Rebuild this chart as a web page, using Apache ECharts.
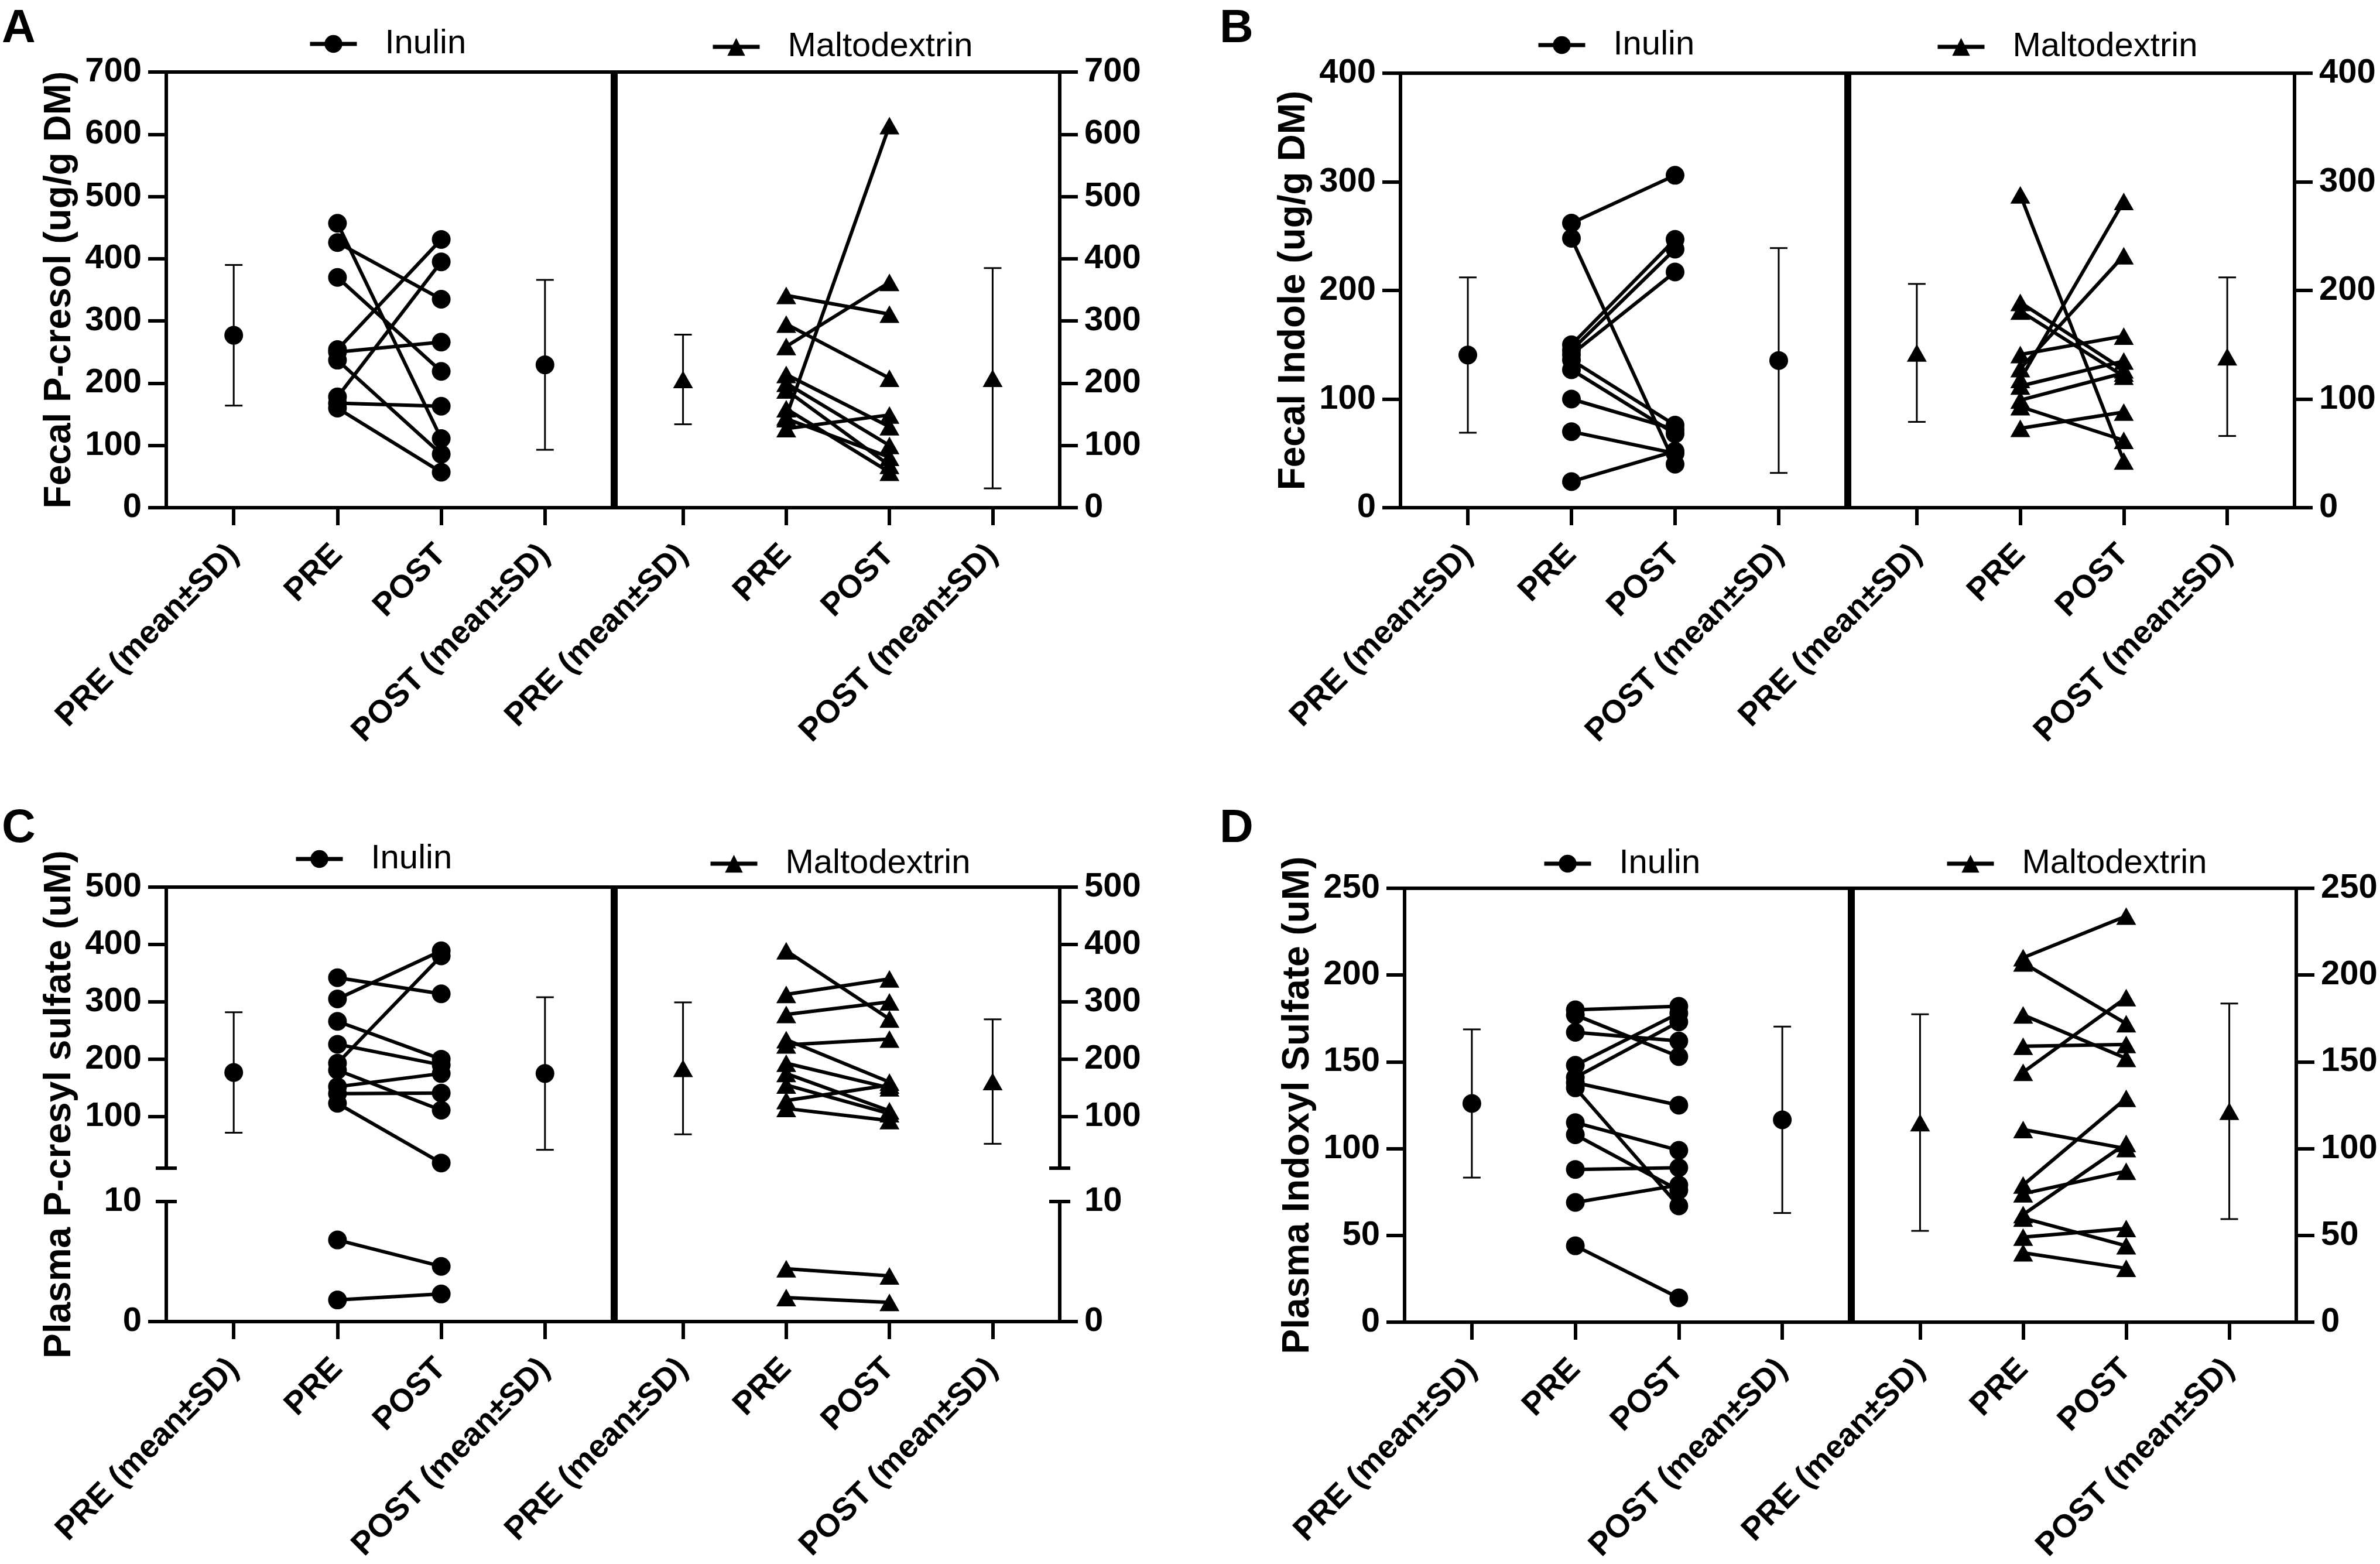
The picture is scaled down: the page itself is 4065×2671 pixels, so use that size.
<!DOCTYPE html>
<html>
<head>
<meta charset="utf-8">
<script src="https://cdn.jsdelivr.net/npm/echarts@6/dist/echarts.min.js"></script>
<style>html,body{margin:0;padding:0;background:#fff}#c{width:4065px;height:2671px}</style>
</head>
<body>
<div id="c"></div>
<script>
// ---------------- DATA ----------------
const CATEGORIES = ['PRE (mean±SD)', 'PRE', 'POST', 'POST (mean±SD)'];
const GROUPS = ['Inulin', 'Maltodextrin'];

// Panel A: Fecal P-cresol (ug/g DM)
const A_INU_PRE  = [457, 426, 370, 254, 250, 237, 178, 168, 160];
const A_INU_POST = [111, 335, 219, 431, 266, 86, 395, 163, 57];
const A_INU_MEAN = [277, 229.5];
const A_INU_SD   = [113, 136.5];
const A_MAL_PRE  = [341, 259, 295, 146, 214, 200, 189, 127, 159, 143];
const A_MAL_POST = [311, 362, 208, 614, 130, 100, 68, 149, 57, 81];
const A_MAL_MEAN = [206, 208];
const A_MAL_SD   = [72, 177];

// Panel B: Fecal Indole (ug/g DM)
const B_INU_PRE  = [262, 248, 150, 145, 141, 136, 127, 100, 70, 24];
const B_INU_POST = [306, 40, 247, 238, 217, 76, 68, 72, 50, 52];
const B_INU_MEAN = [140.5, 135.5];
const B_INU_SD   = [71.5, 103.5];
const B_MAL_PRE  = [288, 118, 128, 189, 181, 141, 112, 99, 93, 73];
const B_MAL_POST = [43, 282, 232, 127, 121, 158, 135, 124, 62, 88];
const B_MAL_MEAN = [142.5, 139];
const B_MAL_SD   = [63.5, 73];

// Panel C: Plasma P-cresyl sulfate (uM)  (broken axis: 0-10 / 10-500)
const C_INU_PRE  = [342, 305, 193, 266, 226, 181, 152, 140, 123, 6.8, 1.8];
const C_INU_POST = [314, 389, 380, 200, 190, 111, 175, 141, 19, 4.6, 2.3];
const C_INU_MEAN = [176.8, 175];
const C_INU_SD   = [105, 133];
const C_MAL_PRE  = [389, 313, 278, 225, 234, 193, 175, 155, 128, 114, 4.4, 2.0];
const C_MAL_POST = [270, 340, 300, 235, 160, 150, 110, 105, 155, 93, 3.8, 1.6];
const C_MAL_MEAN = [184, 161];
const C_MAL_SD   = [115, 108.5];

// Panel D: Plasma Indoxyl Sulfate (uM)
const D_INU_PRE  = [180, 177, 167, 148, 141, 138, 135, 115, 108, 88, 69, 44];
const D_INU_POST = [182, 153, 162, 178, 173, 125, 67, 99, 76, 89, 79, 14];
const D_INU_MEAN = [126, 116.6];
const D_INU_SD   = [42.7, 53.7];
const D_MAL_PRE  = [210, 207, 177, 159, 144, 111, 79, 74, 62, 60, 49, 40];
const D_MAL_POST = [234, 172, 152, 160, 187, 100, 129, 87, 103, 44, 54, 31];
const D_MAL_MEAN = [115, 121.5];
const D_MAL_SD   = [62.4, 62.1];

// Tick values
const A_Y = {min: 0, max: 700, interval: 100};
const B_Y = {min: 0, max: 400, interval: 100};
const C_Y_UPPER_TICKS = [100, 200, 300, 400, 500];
const C_Y_LOWER_TICKS = [0, 10];
const D_Y = {min: 0, max: 250, interval: 50};

// ---------------- LAYOUT ----------------
const FONT = "'Liberation Sans', Arial, Helvetica, sans-serif";
const XMIN = -0.65, XMAX = 3.65;
const BLACK = '#000';
const AXW = 6;

const PANELS = [
  {letter: 'A', lx: 3, ly: 10, box: {l: 284, d: 1049, r: 1810, t: 123, b: 867},
   y: A_Y, title: 'Fecal P-cresol (ug/g DM)',
   inu: {pre: A_INU_PRE, post: A_INU_POST, mean: A_INU_MEAN, sd: A_INU_SD, lg: [526, 46]},
   mal: {pre: A_MAL_PRE, post: A_MAL_POST, mean: A_MAL_MEAN, sd: A_MAL_SD, lg: [1214, 51]}},
  {letter: 'B', lx: 2083, ly: 10, box: {l: 2392, d: 3156, r: 3919, t: 125, b: 867},
   y: B_Y, title: 'Fecal Indole (ug/g DM)',
   inu: {pre: B_INU_PRE, post: B_INU_POST, mean: B_INU_MEAN, sd: B_INU_SD, lg: [2624, 48]},
   mal: {pre: B_MAL_PRE, post: B_MAL_POST, mean: B_MAL_MEAN, sd: B_MAL_SD, lg: [3306, 51]}},
  {letter: 'C', lx: 3, ly: 1376, box: {l: 284, d: 1049, r: 1810, t: 1515, b: 2257},
   brk: {upT: 1515, upB: 1995, upMin: 10, upMax: 500, loT: 2052, loB: 2257, loMin: 0, loMax: 10},
   title: 'Plasma P-cresyl sulfate (uM)',
   inu: {pre: C_INU_PRE, post: C_INU_POST, mean: C_INU_MEAN, sd: C_INU_SD, lg: [502, 1438]},
   mal: {pre: C_MAL_PRE, post: C_MAL_POST, mean: C_MAL_MEAN, sd: C_MAL_SD, lg: [1210, 1446]}},
  {letter: 'D', lx: 2083, ly: 1376, box: {l: 2399, d: 3162, r: 3922, t: 1517, b: 2258},
   y: D_Y, title: 'Plasma Indoxyl Sulfate (uM)',
   inu: {pre: D_INU_PRE, post: D_INU_POST, mean: D_INU_MEAN, sd: D_INU_SD, lg: [2634, 1446]},
   mal: {pre: D_MAL_PRE, post: D_MAL_POST, mean: D_MAL_MEAN, sd: D_MAL_SD, lg: [3322, 1446]}}
];

const grids = [], xAxes = [], yAxes = [], series = [], legends = [], titles = [];

function addGrid(l, t, w, h) {
  grids.push({left: l, top: t, width: w, height: h, containLabel: false, outerBoundsMode: 'none', show: false});
  return grids.length - 1;
}
function lineStyle() { return {color: BLACK, width: AXW, cap: 'square'}; }

function errorBarRender(params, api) {
  const x = api.value(0), m = api.value(1), sd = api.value(2);
  const top = api.coord([x, m + sd]);
  const bot = api.coord([x, m - sd]);
  const cw = 15;
  const st = {stroke: BLACK, lineWidth: 3};
  return {type: 'group', children: [
    {type: 'line', shape: {x1: top[0], y1: top[1], x2: bot[0], y2: bot[1]}, style: st},
    {type: 'line', shape: {x1: top[0] - cw, y1: top[1], x2: top[0] + cw, y2: top[1]}, style: st},
    {type: 'line', shape: {x1: bot[0] - cw, y1: bot[1], x2: bot[0] + cw, y2: bot[1]}, style: st}
  ]};
}

function dataYAxis(gi, pos, min, max, interval, tickVals, labelVals) {
  const ax = {gridIndex: gi, type: 'value', position: pos, min: min, max: max,
    axisLine: {show: true, onZero: false, lineStyle: lineStyle()},
    axisTick: {show: true, inside: false, length: 31, lineStyle: {color: BLACK, width: AXW}},
    axisLabel: {show: true, margin: 42, color: BLACK, fontSize: 58, fontWeight: 'bold', fontFamily: FONT},
    splitLine: {show: false}, splitArea: {show: false}};
  if (interval) ax.interval = interval;
  if (tickVals) ax.axisTick.customValues = tickVals;
  if (labelVals) ax.axisLabel.customValues = labelVals;
  return ax;
}
function barAxis(gi, pos, min, max, inside, val) {
  return {gridIndex: gi, type: 'value', position: pos, min: min, max: max,
    axisLine: {show: false, onZero: false}, axisLabel: {show: false}, splitLine: {show: false},
    axisTick: {show: true, inside: inside, length: 18, customValues: [val], lineStyle: {color: BLACK, width: AXW}}};
}

PANELS.forEach(P => {
  titles.push({text: P.letter, left: P.lx, top: P.ly, padding: 0,
    textStyle: {fontSize: 80, fontWeight: 'bold', color: BLACK, fontFamily: FONT}});
  const halves = [
    {key: 'inu', name: GROUPS[0], l: P.box.l, r: P.box.d - 3, symbol: 'circle', size: 32},
    {key: 'mal', name: GROUPS[1], l: P.box.d + 3, r: P.box.r, symbol: 'triangle', size: [34, 30]}
  ];
  halves.forEach(H => {
    const isInu = H.key === 'inu';
    const G = P[H.key];
    const w = H.r - H.l;
    // frame grid: bottom category axis, top border, divider
    const fg = addGrid(H.l, P.box.t, w, P.box.b - P.box.t);
    xAxes.push({gridIndex: fg, type: 'value', position: 'bottom', min: XMIN, max: XMAX,
      axisLine: {show: true, onZero: false, lineStyle: lineStyle()},
      axisTick: {show: true, inside: false, length: 30, customValues: [0, 1, 2, 3], lineStyle: {color: BLACK, width: AXW}},
      axisLabel: {show: true, customValues: [0, 1, 2, 3], formatter: v => CATEGORIES[Math.round(v)],
        rotate: 45, margin: 72, padding: [48, 0, 0, 0], color: BLACK, fontSize: 55, fontWeight: 'bold', fontFamily: FONT},
      splitLine: {show: false}});
    xAxes.push({gridIndex: fg, type: 'value', position: 'top', min: XMIN, max: XMAX,
      axisLine: {show: true, onZero: false, lineStyle: lineStyle()},
      axisTick: {show: false}, axisLabel: {show: false}, splitLine: {show: false}});
    yAxes.push({gridIndex: fg, type: 'value', position: isInu ? 'right' : 'left', min: 0, max: 1,
      axisLine: {show: true, onZero: false, lineStyle: lineStyle()},
      axisTick: {show: false}, axisLabel: {show: false}, splitLine: {show: false}});
    if (isInu) {
      yAxes.push({gridIndex: fg, type: 'value', position: 'left', min: 0, max: 1,
        axisLine: {show: false, onZero: false}, axisTick: {show: false}, axisLabel: {show: false}, splitLine: {show: false},
        name: P.title, nameLocation: 'middle', nameGap: 150, nameRotate: 90,
        nameTextStyle: {fontSize: 64, fontWeight: 'bold', color: BLACK, fontFamily: FONT}});
    }
    // data grids
    const pos = isInu ? 'left' : 'right';
    let segs;
    if (P.brk) {
      const B = P.brk;
      segs = [
        {t: B.upT, b: B.upB, min: B.upMin, max: B.upMax, ticks: C_Y_UPPER_TICKS, labels: C_Y_UPPER_TICKS, bar: B.upMin, test: v => v >= B.loMax, mean: true},
        {t: B.loT, b: B.loB, min: B.loMin, max: B.loMax, ticks: [C_Y_LOWER_TICKS[0]], labels: C_Y_LOWER_TICKS, bar: B.loMax, test: v => v < B.loMax, mean: false}
      ];
    } else {
      segs = [{t: P.box.t, b: P.box.b, min: P.y.min, max: P.y.max, interval: P.y.interval, test: () => true, mean: true}];
    }
    segs.forEach(S => {
      const dg = addGrid(H.l, S.t, w, S.b - S.t);
      const xi = xAxes.push({gridIndex: dg, type: 'value', min: XMIN, max: XMAX, show: false,
        axisLine: {onZero: false}, splitLine: {show: false}}) - 1;
      const yi = yAxes.push(dataYAxis(dg, pos, S.min, S.max, S.interval, S.ticks, S.labels)) - 1;
      if (S.bar !== undefined) {
        yAxes.push(barAxis(dg, pos, S.min, S.max, true, S.bar));
        yAxes.push(barAxis(dg, pos, S.min, S.max, false, S.bar));
      }
      G.pre.forEach((pv, i) => {
        const qv = G.post[i];
        if (!S.test(pv)) return;
        series.push({type: 'line', name: H.name, xAxisIndex: xi, yAxisIndex: yi,
          data: [[1, pv], [2, qv]], symbol: H.symbol, symbolSize: H.size, showSymbol: true,
          lineStyle: {color: BLACK, width: 6}, itemStyle: {color: BLACK, opacity: 1},
          emphasis: {disabled: true}, silent: true, animation: false, z: 3});
      });
      if (S.mean) {
        series.push({type: 'custom', name: H.name + ' SD', xAxisIndex: xi, yAxisIndex: yi,
          data: [[0, G.mean[0], G.sd[0]], [3, G.mean[1], G.sd[1]]], encode: {x: 0, y: 1},
          renderItem: errorBarRender, silent: true, animation: false, z: 2});
        series.push({type: 'scatter', name: H.name + ' mean', xAxisIndex: xi, yAxisIndex: yi,
          data: [[0, G.mean[0]], [3, G.mean[1]]], symbol: H.symbol, symbolSize: H.size,
          itemStyle: {color: BLACK, opacity: 1}, emphasis: {disabled: true}, silent: true, animation: false, z: 4});
      }
    });
    legends.push({data: [H.name], left: G.lg[0], top: G.lg[1], orient: 'horizontal', padding: 0,
      itemWidth: 80, itemHeight: 38, selectedMode: false,
      lineStyle: {width: 7, color: BLACK}, itemStyle: {color: BLACK},
      textStyle: {color: BLACK, fontSize: 58, fontFamily: FONT, padding: [0, 0, 0, 43]}});
  });
});

const chart = echarts.init(document.getElementById('c'), null, {renderer: 'canvas'});
chart.setOption({
  animation: false,
  backgroundColor: '#fff',
  title: titles,
  legend: legends,
  grid: grids,
  xAxis: xAxes,
  yAxis: yAxes,
  series: series
});
</script>
</body>
</html>
